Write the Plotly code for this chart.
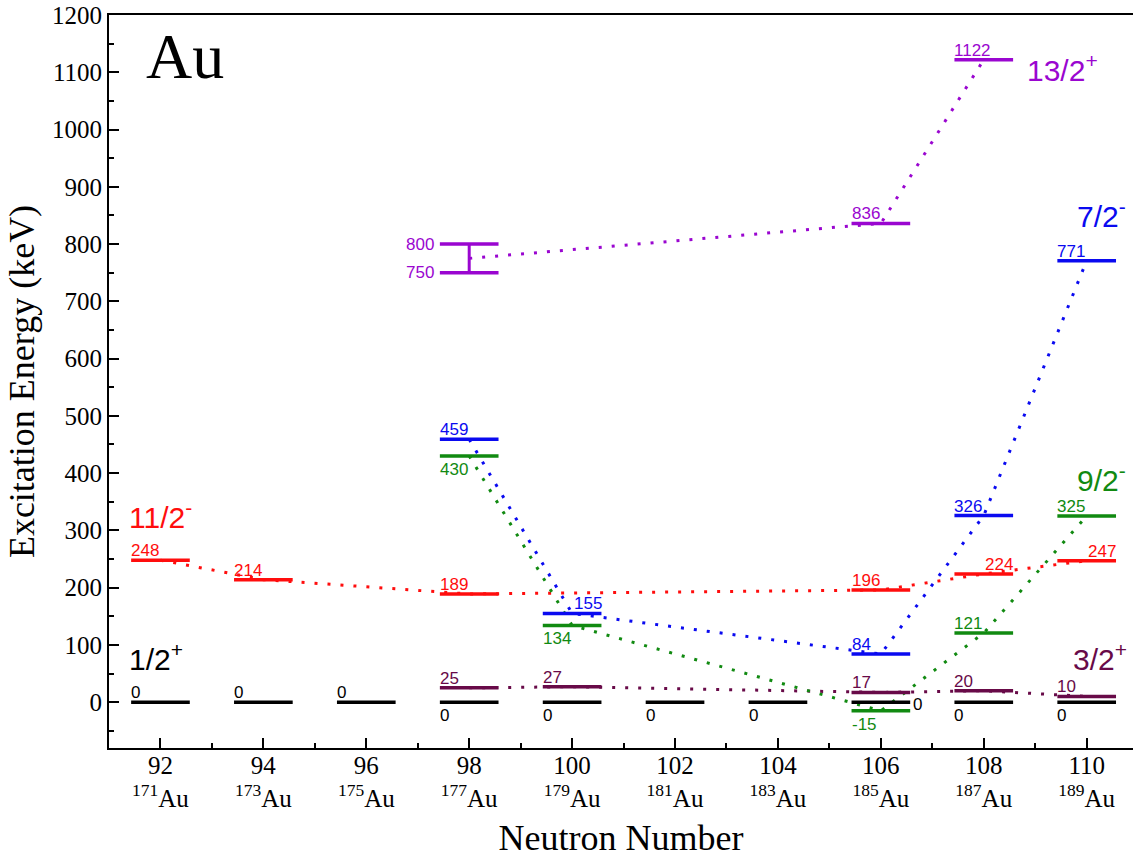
import plotly.graph_objects as go

# ---- data -------------------------------------------------------------
neutrons = [92, 94, 96, 98, 100, 102, 104, 106, 108, 110]
mass_numbers = [171, 173, 175, 177, 179, 181, 183, 185, 187, 189]
gs_energy = [0, 0, 0, 0, 0, 0, 0, 0, 0, 0]          # 1/2+ ground states

h11_n = [92, 94, 98, 106, 108, 110]                 # 11/2-
h11_e = [248, 214, 189, 196, 224, 247]

f7_n = [98, 100, 106, 108, 110]                     # 7/2-
f7_e = [459, 155, 84, 326, 771]

h9_n = [98, 100, 106, 108, 110]                     # 9/2-
h9_e = [430, 134, -15, 121, 325]

d3_n = [98, 100, 106, 108, 110]                     # 3/2+
d3_e = [25, 27, 17, 20, 10]

i13_n = [106, 108]                                  # 13/2+
i13_e = [836, 1122]
i13_range_n = 98                                    # 13/2+ in 177Au: bounded range
i13_range_e = [750, 800]

y_ticks = [0, 100, 200, 300, 400, 500, 600, 700, 800, 900, 1000, 1100, 1200]

# ---- style ------------------------------------------------------------
C_BLACK = "#000000"
C_RED = "#ff0d0d"
C_BLUE = "#0a0af0"
C_GREEN = "#118a11"
C_MAROON = "#680a48"
C_VIOLET = "#9a06d0"

HALF = 0.57          # half width of a level bar (neutron-number units)
BAR_W = 3.5
DOTS = "3px,10px"
SANS = "Liberation Sans, Arial, sans-serif"
SERIF = "Liberation Serif, Times New Roman, serif"
NUM_SIZE = 17
SPIN_SIZE = 30

fig = go.Figure()


def connector(xs, ys, color):
    fig.add_trace(go.Scatter(x=xs, y=ys, mode="lines",
                             line=dict(color=color, width=3, dash=DOTS),
                             hoverinfo="skip", showlegend=False))


def levels(xs, ys, color):
    bx, by = [], []
    for n, e in zip(xs, ys):
        bx += [n - HALF, n + HALF, None]
        by += [e, e, None]
    fig.add_trace(go.Scatter(x=bx, y=by, mode="lines",
                             line=dict(color=color, width=BAR_W),
                             hoverinfo="skip", showlegend=False))


annotations = []


def value_label(n, e, color, where="above"):
    a = dict(text=str(e), showarrow=False, font=dict(family=SANS, size=NUM_SIZE, color=color),
             xref="x", yref="y", y=e)
    if where == "above":
        a.update(x=n - HALF, xanchor="left", yanchor="bottom", yshift=-2, xshift=-2)
    elif where == "above_mid":
        a.update(x=n, xanchor="left", yanchor="bottom", yshift=-2)
    elif where == "above_right":
        a.update(x=n + HALF, xanchor="right", yanchor="bottom", yshift=-2, xshift=2)
    elif where == "below":
        a.update(x=n - HALF, xanchor="left", yanchor="top", yshift=-2, xshift=-2)
    elif where == "right":
        a.update(x=n + HALF, xanchor="left", yanchor="middle", xshift=1, yshift=-2)
    elif where == "left":
        a.update(x=n - HALF, xanchor="right", yanchor="middle", xshift=-4)
    annotations.append(a)


# dotted systematics
connector(h11_n, h11_e, C_RED)
connector(d3_n, d3_e, C_MAROON)
connector(h9_n, h9_e, C_GREEN)
connector(f7_n, f7_e, C_BLUE)
i13_mid = sum(i13_range_e) / len(i13_range_e)
connector([i13_range_n] + i13_n, [i13_mid] + i13_e, C_VIOLET)

# level bars
levels(neutrons, gs_energy, C_BLACK)
levels(h11_n, h11_e, C_RED)
levels(d3_n, d3_e, C_MAROON)
levels(h9_n, h9_e, C_GREEN)
levels(f7_n, f7_e, C_BLUE)
levels(i13_n, i13_e, C_VIOLET)
levels([i13_range_n, i13_range_n], i13_range_e, C_VIOLET)
fig.add_trace(go.Scatter(x=[i13_range_n, i13_range_n], y=i13_range_e, mode="lines",
                         line=dict(color=C_VIOLET, width=3),
                         hoverinfo="skip", showlegend=False))

# value labels
for n, e in zip(neutrons, gs_energy):
    where = "above" if n < 98 else ("right" if n == 106 else "below")
    value_label(n, e, C_BLACK, where)
for n, e in zip(h11_n, h11_e):
    value_label(n, e, C_RED, "above_right" if n in (108, 110) else "above")
for n, e in zip(f7_n, f7_e):
    value_label(n, e, C_BLUE, "above_mid" if n == 100 else "above")
for n, e in zip(h9_n, h9_e):
    value_label(n, e, C_GREEN, "below" if n in (98, 100, 106) else "above")
for n, e in zip(d3_n, d3_e):
    value_label(n, e, C_MAROON, "above")
for n, e in zip(i13_n, i13_e):
    value_label(n, e, C_VIOLET, "above")
for e in i13_range_e:
    value_label(i13_range_n, e, C_VIOLET, "left")

# spin-parity labels
spins = [
    ("1/2<sup>+</sup>", 91.35, 43, C_BLACK),
    ("11/2<sup>-</sup>", 91.35, 291, C_RED),
    ("13/2<sup>+</sup>", 108.8, 1071, C_VIOLET),
    ("7/2<sup>-</sup>", 109.78, 815, C_BLUE),
    ("9/2<sup>-</sup>", 109.78, 355, C_GREEN),
    ("3/2<sup>+</sup>", 109.7, 43, C_MAROON),
]
for txt, x, y, col in spins:
    annotations.append(dict(text=txt, x=x, y=y, xref="x", yref="y", showarrow=False,
                            xanchor="left", yanchor="bottom",
                            font=dict(family=SANS, size=SPIN_SIZE, color=col)))

# element symbol
annotations.append(dict(text="Au", x=0.034, y=0.995, xref="paper", yref="paper",
                        showarrow=False, xanchor="left", yanchor="top",
                        font=dict(family=SERIF, size=64, color="#000000")))

x_ticktext = [f"{n}<br><sup>{a}</sup>Au" for n, a in zip(neutrons, mass_numbers)]

fig.update_layout(
    width=1135, height=859,
    margin=dict(l=109, r=2, t=15, b=111),
    paper_bgcolor="white", plot_bgcolor="white",
    showlegend=False,
    annotations=annotations,
    xaxis=dict(
        range=[91, 110.9], tickmode="array", tickvals=neutrons, ticktext=x_ticktext,
        ticks="inside", ticklen=10, tickwidth=2, tickcolor="#000",
        showline=True, linecolor="#000", linewidth=2, mirror=True,
        showgrid=False, zeroline=False, ticklabelstandoff=-6,
        tickfont=dict(family=SERIF, size=25, color="#000"),
        minor=dict(tickmode="linear", tick0=91, dtick=1, ticks="inside",
                   ticklen=5, tickwidth=2, tickcolor="#000"),
        title=dict(text="Neutron Number", font=dict(family=SERIF, size=36, color="#000"),
                   standoff=14),
    ),
    yaxis=dict(
        range=[-80, 1200], tickmode="array", tickvals=y_ticks,
        ticks="inside", ticklen=10, tickwidth=2, tickcolor="#000",
        showline=True, linecolor="#000", linewidth=2,
        showgrid=False, zeroline=False,
        tickfont=dict(family=SERIF, size=25, color="#000"),
        minor=dict(tickmode="linear", tick0=50, dtick=100, ticks="inside",
                   ticklen=5, tickwidth=2, tickcolor="#000"),
        title=dict(text="Excitation Energy (keV)", font=dict(family=SERIF, size=36, color="#000"),
                   standoff=6),
    ),
)

fig.write_html("out.html")
